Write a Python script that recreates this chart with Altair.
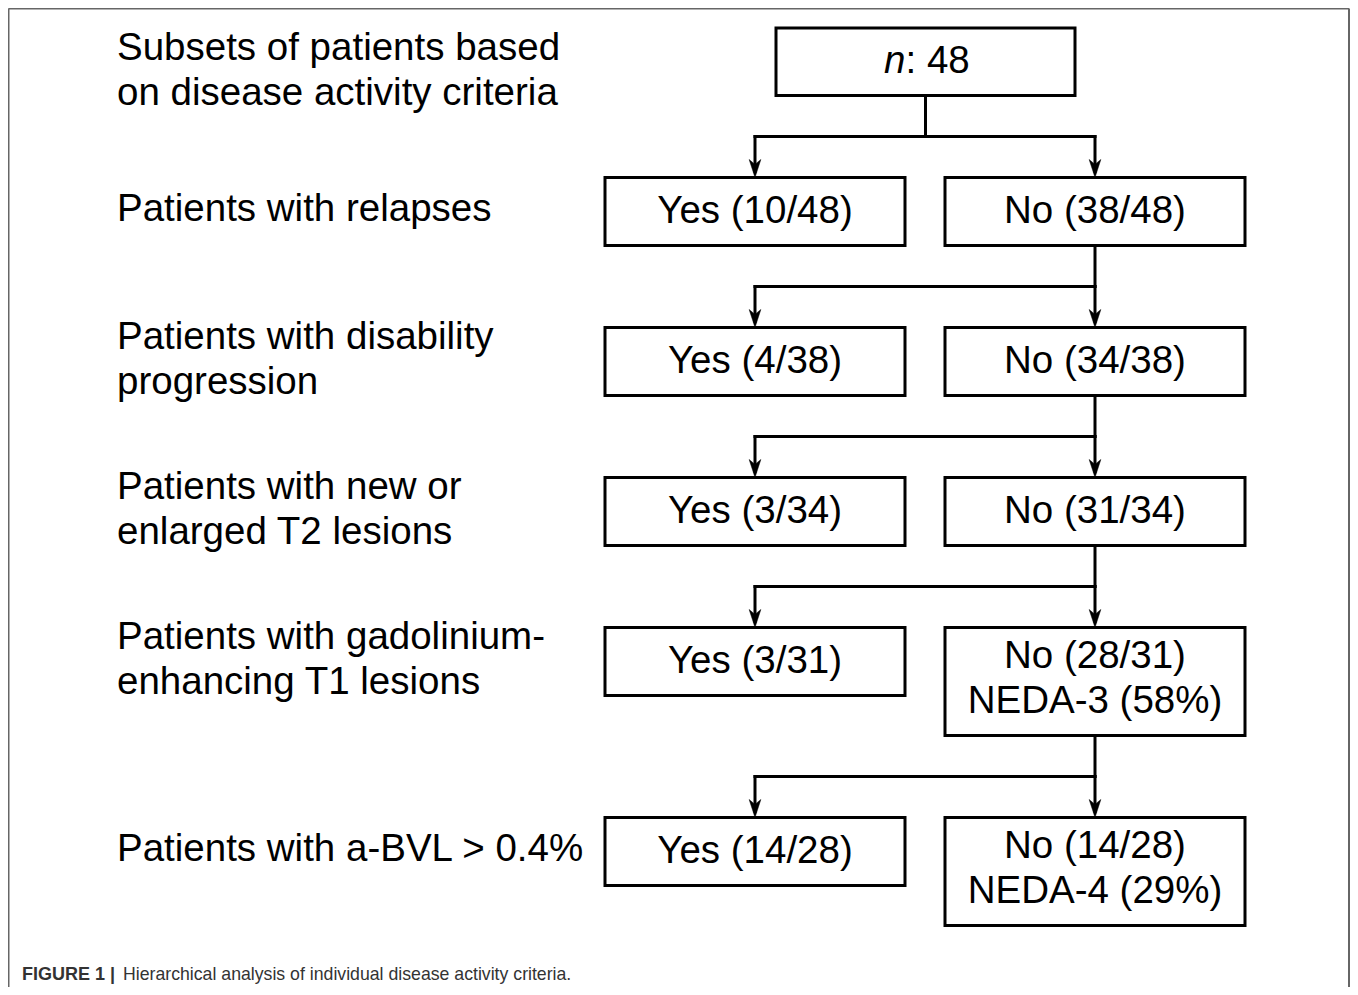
import altair as alt
import pandas as pd

# ---------------- data ----------------
top_label = "n"
top_count = ": 48"
criteria = [
    "Subsets of patients based\non disease activity criteria",
    "Patients with relapses",
    "Patients with disability\nprogression",
    "Patients with new or\nenlarged T2 lesions",
    "Patients with gadolinium-\nenhancing T1 lesions",
    "Patients with a-BVL > 0.4%",
]
yes_counts = [10, 4, 3, 3, 14]
no_counts = [38, 34, 31, 28, 14]
totals = [48, 38, 34, 31, 28]
neda = ["", "", "", "NEDA-3 (58%)", "NEDA-4 (29%)"]
caption_bold = "FIGURE 1 |"
caption_text = "Hierarchical analysis of individual disease activity criteria."

# ---------------- layout (pixel space) ----------------
W, H = 1342, 979
X0, Y0 = 8, 8
YES_L, YES_R = 605, 905
NO_L, NO_R = 945, 1245
YES_C = (YES_L + YES_R) / 2
NO_C = (NO_L + NO_R) / 2
TOP_L, TOP_R, TOP_T, TOP_B = 776, 1075, 28, 95.5
BOX_H, BOX_H2 = 68, 108
GAP1, GAP2 = 41, 82
FS = 38.5
LH = 45
FONT = "Liberation Sans"


def first_line_y(center, text, shift):
    n = text.count("\n") + 1
    return center + shift - (n - 1) * LH / 2


boxes, texts, labels, rules, arrows = [], [], [], [], []
boxes.append(dict(x=TOP_L, x2=TOP_R, y=TOP_T, y2=TOP_B))
labels.append(dict(x=117, y=first_line_y(70.5, criteria[0], 0), t=criteria[0]))

parent_x = (TOP_L + TOP_R) / 2
parent_b = TOP_B
for i in range(len(yes_counts)):
    branch = parent_b + GAP1
    top = parent_b + GAP2
    rules.append(dict(x=parent_x, x2=parent_x, y=parent_b, y2=branch))
    rules.append(dict(x=YES_C, x2=NO_C, y=branch, y2=branch))
    for cx in (YES_C, NO_C):
        rules.append(dict(x=cx, x2=cx, y=branch, y2=top - 6))
        arrows.append(dict(x=cx, y=top))
    yb = top + BOX_H
    nb = top + (BOX_H2 if neda[i] else BOX_H)
    boxes.append(dict(x=YES_L, x2=YES_R, y=top, y2=yb))
    boxes.append(dict(x=NO_L, x2=NO_R, y=top, y2=nb))
    yt = f"Yes ({yes_counts[i]}/{totals[i]})"
    texts.append(dict(x=YES_C, y=first_line_y((top + yb) / 2, yt, -1), t=yt))
    nt = f"No ({no_counts[i]}/{totals[i]})" + ("\n" + neda[i] if neda[i] else "")
    texts.append(dict(x=NO_C, y=first_line_y((top + nb) / 2, nt, -3 if neda[i] else -1), t=nt))
    labels.append(dict(x=117, y=first_line_y((top + yb) / 2, criteria[i + 1], -2.5), t=criteria[i + 1]))
    parent_x = NO_C
    parent_b = nb

frame = [
    dict(x=8.5, x2=1349, y=8.5, y2=8.5),
    dict(x=8.5, x2=8.5, y=8.5, y2=987),
    dict(x=1349, x2=1349, y=8.5, y2=987),
]

xs = alt.Scale(domain=[X0, X0 + W], nice=False, zero=False)
ys = alt.Scale(domain=[Y0, Y0 + H], nice=False, zero=False, reverse=True)


def X(f="x"):
    return alt.X(f"{f}:Q", scale=xs, axis=None)


def Y(f="y"):
    return alt.Y(f"{f}:Q", scale=ys, axis=None)


frame_l = alt.Chart(pd.DataFrame(frame)).mark_rule(color="#666666", strokeWidth=2).encode(
    x=X(), x2="x2:Q", y=Y(), y2="y2:Q")

rule_l = alt.Chart(pd.DataFrame(rules)).mark_rule(color="black", strokeWidth=3, strokeCap="square").encode(
    x=X(), x2="x2:Q", y=Y(), y2="y2:Q")

box_l = alt.Chart(pd.DataFrame(boxes)).mark_rect(fill="white", stroke="black", strokeWidth=3).encode(
    x=X(), x2="x2:Q", y=Y(), y2="y2:Q")

arrow_l = alt.Chart(pd.DataFrame(arrows)).mark_point(
    shape="M0,1L-0.65,-1L0,-0.45L0.65,-1Z", size=324, filled=True, fill="black",
    stroke="black", strokeWidth=0.5, opacity=1, yOffset=-9).encode(x=X(), y=Y())

text_l = alt.Chart(pd.DataFrame(texts)).mark_text(
    font=FONT, fontSize=FS, lineHeight=LH, lineBreak="\n", align="center", baseline="middle",
    color="black").encode(x=X(), y=Y(), text="t:N")

label_l = alt.Chart(pd.DataFrame(labels)).mark_text(
    font=FONT, fontSize=FS, lineHeight=LH, lineBreak="\n", align="left", baseline="middle",
    color="black").encode(x=X(), y=Y(), text="t:N")

top_df = pd.DataFrame([dict(x=(TOP_L + TOP_R) / 2 - 20, y=(TOP_T + TOP_B) / 2 - 1, a=top_label, b=top_count)])
top_n = alt.Chart(top_df).mark_text(
    font=FONT, fontSize=FS, fontStyle="italic", align="right", baseline="middle", color="black"
).encode(x=X(), y=Y(), text="a:N")
top_c = alt.Chart(top_df).mark_text(
    font=FONT, fontSize=FS, align="left", baseline="middle", color="black"
).encode(x=X(), y=Y(), text="b:N")

cap_df = pd.DataFrame([dict(x=22, x2=123, y=975, a=caption_bold, b=caption_text)])
cap_a = alt.Chart(cap_df).mark_text(
    font=FONT, fontSize=18, fontWeight="bold", align="left", baseline="middle", color="#333333"
).encode(x=X(), y=Y(), text="a:N")
cap_b = alt.Chart(cap_df).mark_text(
    font=FONT, fontSize=17.7, align="left", baseline="middle", color="#333333"
).encode(x=X("x2"), y=Y(), text="b:N")

chart = alt.layer(
    frame_l, rule_l, box_l, arrow_l, text_l, label_l, top_n, top_c, cap_a, cap_b
).properties(
    width=W, height=H, padding=0, autosize=alt.AutoSizeParams(type="none"),
    background="white"
).configure_view(stroke=None)

chart.save("out.html", embed_options={"renderer": "svg", "actions": False})
